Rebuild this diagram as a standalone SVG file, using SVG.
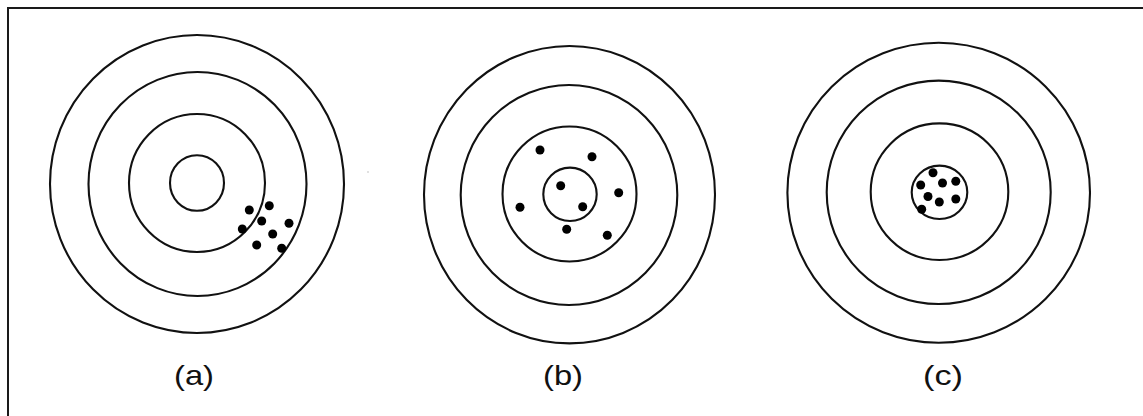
<svg xmlns="http://www.w3.org/2000/svg" width="1143" height="416" viewBox="0 0 1143 416">
  <style>
    .ring { fill: none; stroke: #111; stroke-width: 2.1; }
    .hit { fill: #000; }
    .lbl { font-family: "Liberation Sans", Arial, sans-serif; font-size: 28px; fill: #111; text-anchor: middle; }
    .frame { stroke: #1a1a1a; stroke-width: 2; fill: none; }
  </style>
  <rect width="1143" height="416" fill="#fff"/>
  <g id="frame">
    <path class="frame" d="M8,416 V8 H1143"/>
  </g>
  <g id="target-a">
    <ellipse class="ring" cx="197" cy="184" rx="147" ry="149"/>
    <ellipse class="ring" cx="197.5" cy="184" rx="109" ry="112"/>
    <ellipse class="ring" cx="197" cy="183" rx="68" ry="69"/>
    <ellipse class="ring" cx="197" cy="183" rx="27" ry="27.8"/>
    <circle class="hit" cx="249.3" cy="210" r="4.5"/>
    <circle class="hit" cx="269.3" cy="205.7" r="4.5"/>
    <circle class="hit" cx="261.7" cy="221" r="4.5"/>
    <circle class="hit" cx="289" cy="223.3" r="4.5"/>
    <circle class="hit" cx="242.3" cy="229" r="4.5"/>
    <circle class="hit" cx="272.7" cy="234" r="4.5"/>
    <circle class="hit" cx="256.7" cy="245" r="4.5"/>
    <circle class="hit" cx="281.7" cy="248.3" r="4.5"/>
    <text class="lbl" x="194" y="385" textLength="40" lengthAdjust="spacingAndGlyphs">(a)</text>
  </g>
  <circle cx="368" cy="172" r="0.8" fill="#bbb"/>
  <g id="target-b">
    <ellipse class="ring" cx="569.5" cy="194.7" rx="145.5" ry="148.7"/>
    <ellipse class="ring" cx="569" cy="195" rx="108.3" ry="110"/>
    <ellipse class="ring" cx="569.5" cy="194" rx="67" ry="67.5"/>
    <ellipse class="ring" cx="570" cy="194.3" rx="26.7" ry="26.7"/>
    <circle class="hit" cx="540" cy="150" r="4.5"/>
    <circle class="hit" cx="592" cy="156.7" r="4.5"/>
    <circle class="hit" cx="560.7" cy="185.7" r="4.5"/>
    <circle class="hit" cx="618.7" cy="192.7" r="4.5"/>
    <circle class="hit" cx="520" cy="207.3" r="4.5"/>
    <circle class="hit" cx="582.7" cy="206.7" r="4.5"/>
    <circle class="hit" cx="566.7" cy="229.3" r="4.5"/>
    <circle class="hit" cx="607.3" cy="235.3" r="4.5"/>
    <text class="lbl" x="563" y="385" textLength="40" lengthAdjust="spacingAndGlyphs">(b)</text>
  </g>
  <g id="target-c">
    <ellipse class="ring" cx="938.7" cy="192.7" rx="151.3" ry="150"/>
    <ellipse class="ring" cx="938.7" cy="192.3" rx="112" ry="111.7"/>
    <ellipse class="ring" cx="939.5" cy="191.7" rx="68.8" ry="68.3"/>
    <ellipse class="ring" cx="939.5" cy="192.3" rx="27.8" ry="26.7"/>
    <circle class="hit" cx="933" cy="172.7" r="4.5"/>
    <circle class="hit" cx="920.7" cy="185" r="4.5"/>
    <circle class="hit" cx="942.5" cy="183" r="4.5"/>
    <circle class="hit" cx="955.8" cy="181.3" r="4.5"/>
    <circle class="hit" cx="928" cy="196.5" r="4.5"/>
    <circle class="hit" cx="939.3" cy="202" r="4.5"/>
    <circle class="hit" cx="955.8" cy="199" r="4.5"/>
    <circle class="hit" cx="921.7" cy="209.2" r="4.5"/>
    <text class="lbl" x="943" y="385" textLength="40" lengthAdjust="spacingAndGlyphs">(c)</text>
  </g>
</svg>
